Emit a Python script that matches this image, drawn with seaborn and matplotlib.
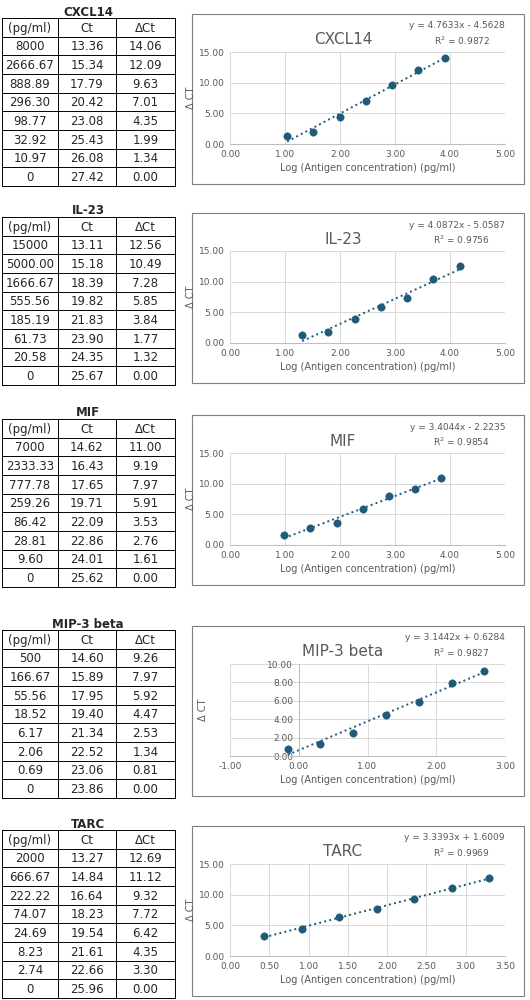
import numpy as np
import matplotlib
matplotlib.use("Agg")
import matplotlib.pyplot as plt
import seaborn as sns
from matplotlib.patches import Rectangle

sns.set_style("white")
plt.rcParams['font.family'] = ['DejaVu Sans']

# data, one entry per analyte
names = ["CXCL14", "IL-23", "MIF", "MIP-3 beta", "TARC"]
conc_labels = [
    ["8000", "2666.67", "888.89", "296.30", "98.77", "32.92", "10.97", "0"],
    ["15000", "5000.00", "1666.67", "555.56", "185.19", "61.73", "20.58", "0"],
    ["7000", "2333.33", "777.78", "259.26", "86.42", "28.81", "9.60", "0"],
    ["500", "166.67", "55.56", "18.52", "6.17", "2.06", "0.69", "0"],
    ["2000", "666.67", "222.22", "74.07", "24.69", "8.23", "2.74", "0"],
]
ct = [
    [13.36, 15.34, 17.79, 20.42, 23.08, 25.43, 26.08, 27.42],
    [13.11, 15.18, 18.39, 19.82, 21.83, 23.90, 24.35, 25.67],
    [14.62, 16.43, 17.65, 19.71, 22.09, 22.86, 24.01, 25.62],
    [14.60, 15.89, 17.95, 19.40, 21.34, 22.52, 23.06, 23.86],
    [13.27, 14.84, 16.64, 18.23, 19.54, 21.61, 22.66, 25.96],
]
dct = [
    [14.06, 12.09, 9.63, 7.01, 4.35, 1.99, 1.34, 0.00],
    [12.56, 10.49, 7.28, 5.85, 3.84, 1.77, 1.32, 0.00],
    [11.00, 9.19, 7.97, 5.91, 3.53, 2.76, 1.61, 0.00],
    [9.26, 7.97, 5.92, 4.47, 2.53, 1.34, 0.81, 0.00],
    [12.69, 11.12, 9.32, 7.72, 6.42, 4.35, 3.30, 0.00],
]
slopes = [4.7633, 4.0872, 3.4044, 3.1442, 3.3393]
intercepts = [-4.5628, -5.0587, -2.2235, 0.6284, 1.6009]
r2 = [0.9872, 0.9756, 0.9854, 0.9827, 0.9969]
xlims = [(0, 5), (0, 5), (0, 5), (-1, 3), (0, 3.5)]
xsteps = [1, 1, 1, 1, 0.5]
ylims = [(0, 15), (0, 15), (0, 15), (0, 10), (0, 15)]
ysteps = [5, 5, 5, 2, 5]

W, H = 530, 1000
fig = plt.figure(figsize=(5.3, 10), dpi=100)
over = fig.add_axes([0, 0, 1, 1])
over.set_xlim(0, W)
over.set_ylim(H, 0)
over.axis("off")

box_tops = [14, 213, 415, 626, 826]
box_h = 170
mark = "#1f5a78"
grey = "#595959"

def px(x, y, w, h):
    return [x / W, 1 - (y + h) / H, w / W, h / H]

for i, name in enumerate(names):
    top = box_tops[i]
    # table
    t_top = top + 4
    rh = (box_h - 2) / 9
    cols = [2, 58, 116, 175]
    over.text(88, t_top - 6, name, ha="center", va="center", fontsize=8.5, fontweight="bold")
    for r in range(10):
        over.plot([cols[0], cols[-1]], [t_top + r * rh] * 2, color="black", lw=0.7)
    for c in cols:
        over.plot([c, c], [t_top, t_top + 9 * rh], color="black", lw=0.7)
    rows = [["(pg/ml)", "Ct", "ΔCt"]] + [
        [conc_labels[i][k], f"{ct[i][k]:.2f}", f"{dct[i][k]:.2f}"] for k in range(8)]
    for r, row in enumerate(rows):
        for c, txt in enumerate(row):
            over.text((cols[c] + cols[c + 1]) / 2, t_top + (r + 0.55) * rh, txt,
                      ha="center", va="center", fontsize=8.5)
    # chart box
    over.add_patch(Rectangle((192, top), 332, box_h, fill=False, ec="#7f7f7f", lw=0.8))
    over.text(343, top + 26, name, ha="center", va="center", fontsize=11, color=grey)
    over.text(505, top + 12, f"y = {slopes[i]:.4f}x {'+' if intercepts[i] >= 0 else '-'} {abs(intercepts[i]):.4f}",
              ha="right", va="center", fontsize=6.5, color=grey)
    over.text(490, top + 27, f"R$^2$ = {r2[i]:.4f}", ha="right", va="center", fontsize=6.5, color=grey)

    ax = fig.add_axes(px(230, top + 38, 275, box_h - 78))
    x = np.log10([float(v) for v in conc_labels[i][:7]])
    y = np.array(dct[i][:7])
    xs = np.linspace(x.min(), x.max(), 50)
    ax.plot(xs, slopes[i] * xs + intercepts[i], ls=":", color=mark, lw=1.4)
    sns.scatterplot(x=x, y=y, ax=ax, color=mark, s=28, edgecolor=mark, zorder=3)
    ax.set_xlim(*xlims[i])
    ax.set_ylim(*ylims[i])
    ax.set_xticks(np.arange(xlims[i][0], xlims[i][1] + 1e-9, xsteps[i]))
    ax.set_yticks(np.arange(ylims[i][0], ylims[i][1] + 1e-9, ysteps[i]))
    ax.xaxis.set_major_formatter(matplotlib.ticker.FormatStrFormatter("%.2f"))
    ax.yaxis.set_major_formatter(matplotlib.ticker.FormatStrFormatter("%.2f"))
    ax.grid(True, color="#d9d9d9", lw=0.7)
    for s in ["top", "right", "left"]:
        ax.spines[s].set_visible(False)
    ax.spines["bottom"].set_color("#bfbfbf")
    if xlims[i][0] < 0:
        ax.spines["left"].set_visible(True)
        ax.spines["left"].set_position(("data", 0))
        ax.spines["left"].set_color("#bfbfbf")
    ax.tick_params(length=0, labelsize=6.5, labelcolor=grey, pad=4)
    ax.set_xlabel("Log (Antigen concentration) (pg/ml)", fontsize=7, color=grey, labelpad=3)
    ax.set_ylabel("Δ CT", fontsize=7, color=grey, labelpad=2)
    if xlims[i][0] < 0:
        ax.yaxis.set_label_coords(-0.08, 0.5)

fig.savefig("out.png", dpi=100)
